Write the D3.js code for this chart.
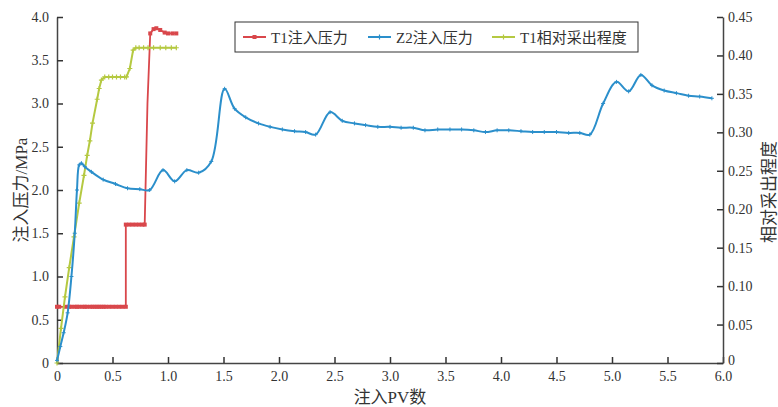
<!DOCTYPE html>
<html>
<head>
<meta charset="utf-8">
<script src="https://cdn.jsdelivr.net/npm/d3@7"></script>
<style>
  body { margin: 0; background: #fff; }
  svg text { font-family: "Liberation Serif", "Times New Roman", "Noto Sans CJK SC", serif; fill: #333; }
  .axis path, .axis line { stroke: #444; stroke-width: 1.5px; }
</style>
</head>
<body>
<div id="chart"></div>
<script>
// Z2 injection pressure (MPa) vs PV
var z2X = [0, 0.03, 0.06, 0.096, 0.13, 0.16, 0.18, 0.20, 0.22, 0.25, 0.31, 0.416, 0.527, 0.635, 0.746, 0.835,
  0.955, 1.06, 1.17, 1.276, 1.39, 1.51, 1.60, 1.70, 1.815, 1.92, 2.03, 2.14, 2.24, 2.33, 2.46, 2.57, 2.68,
  2.78, 2.89, 3.00, 3.10, 3.21, 3.315, 3.43, 3.54, 3.645, 3.755, 3.86, 3.965, 4.07, 4.18, 4.285, 4.39, 4.50,
  4.61, 4.71, 4.80, 4.92, 5.04, 5.15, 5.26, 5.36, 5.47, 5.58, 5.69, 5.79, 5.90];
var z2Y = [0.03, 0.19, 0.35, 0.58, 1.0, 1.5, 2.0, 2.29, 2.31, 2.27, 2.21, 2.12, 2.07, 2.02, 2.01, 2.00,
  2.23, 2.10, 2.23, 2.20, 2.33, 3.17, 2.94, 2.84, 2.77, 2.73, 2.70, 2.68, 2.67, 2.64, 2.90, 2.80, 2.77,
  2.75, 2.73, 2.73, 2.72, 2.72, 2.69, 2.70, 2.70, 2.70, 2.69, 2.67, 2.69, 2.69, 2.68, 2.67, 2.67, 2.67,
  2.66, 2.66, 2.64, 3.00, 3.25, 3.14, 3.33, 3.21, 3.15, 3.12, 3.09, 3.08, 3.06];

// T1 injection pressure (MPa)
var t1X = [0, 0.02, 0.08, 0.11, 0.13, 0.16, 0.18, 0.20, 0.23, 0.25, 0.27, 0.30, 0.32, 0.34, 0.36, 0.38, 0.40,
  0.42, 0.44, 0.47, 0.50, 0.53, 0.56, 0.59, 0.62, 0.62, 0.65, 0.68, 0.71, 0.74, 0.77, 0.79, 0.815, 0.84,
  0.87, 0.895, 0.93, 0.97, 1.00, 1.04, 1.075];
var t1Y = [0.65, 0.65, 0.65, 0.65, 0.65, 0.65, 0.65, 0.65, 0.65, 0.65, 0.65, 0.65, 0.65, 0.65, 0.65, 0.65, 0.65,
  0.65, 0.65, 0.65, 0.65, 0.65, 0.65, 0.65, 0.65, 1.60, 1.60, 1.60, 1.60, 1.60, 1.60, 1.60, 3.0, 3.81,
  3.86, 3.87, 3.85, 3.82, 3.81, 3.81, 3.81];

// T1 relative recovery degree (right axis)
var recX = [0, 0.036, 0.072, 0.11, 0.153, 0.20, 0.243, 0.272, 0.296, 0.32, 0.362, 0.38, 0.40, 0.43, 0.466,
  0.50, 0.536, 0.572, 0.61, 0.626, 0.656, 0.686, 0.71, 0.74, 0.78, 0.82, 0.87, 0.93, 0.98, 1.03, 1.075];
var recY = [0, 0.045, 0.086, 0.124, 0.164, 0.208, 0.244, 0.270, 0.289, 0.312, 0.343, 0.357, 0.368, 0.372, 0.372,
  0.372, 0.372, 0.372, 0.372, 0.372, 0.383, 0.407, 0.41, 0.41, 0.41, 0.41, 0.41, 0.41, 0.41, 0.41, 0.41];

var xTicks = [0, 0.5, 1.0, 1.5, 2.0, 2.5, 3.0, 3.5, 4.0, 4.5, 5.0, 5.5, 6.0];
var yTicks = [0, 0.5, 1.0, 1.5, 2.0, 2.5, 3.0, 3.5, 4.0];
var y2Ticks = [0, 0.05, 0.10, 0.15, 0.20, 0.25, 0.30, 0.35, 0.40, 0.45];

var seriesNames = ["T1注入压力", "Z2注入压力", "T1相对采出程度"];
var colors = ["#d9474b", "#2b8fcb", "#b5c941"];

var width = 778, height = 407;
var margin = {top: 17, right: 55, bottom: 44, left: 57};
var chartW = width - margin.left - margin.right,
    chartH = height - margin.top - margin.bottom;

var x = d3.scaleLinear().domain([0, 6]).range([0, chartW]);
var y = d3.scaleLinear().domain([0, 4]).range([chartH, 0]);
var y2 = d3.scaleLinear().domain([0, 0.45]).range([chartH, 0]);

var svg = d3.select('#chart').append('svg')
    .attr('width', width)
    .attr('height', height);
var g = svg.append('g').attr('transform', 'translate(' + margin.left + ',' + margin.top + ')');

var fmt1 = function(d) { return d === 0 ? "0" : d3.format(".1f")(d); };
var fmt2 = function(d) { return d === 0 ? "0" : d3.format(".2f")(d); };

g.append('g').attr('class', 'axis')
    .attr('transform', 'translate(0,' + chartH + ')')
    .call(d3.axisBottom(x).tickValues(xTicks).tickFormat(fmt1).tickSizeInner(-6).tickSizeOuter(0).tickPadding(8));
g.append('g').attr('class', 'axis')
    .call(d3.axisLeft(y).tickValues(yTicks).tickFormat(fmt1).tickSizeInner(-6).tickSizeOuter(0).tickPadding(8));
g.append('g').attr('class', 'axis y2')
    .attr('transform', 'translate(' + chartW + ',0)')
    .call(d3.axisRight(y2).tickValues(y2Ticks).tickFormat(fmt2).tickSizeInner(-6).tickSizeOuter(0).tickPadding(5));
g.selectAll('.axis text').style('font-size', '14px').attr('fill', '#333');
g.selectAll('.axis .tick line').style('stroke', '#333');
// the right-axis "0" sits a little above its tick so it clears the x label "6.0"
g.select('.y2').selectAll('.tick text').filter(function(d) { return d === 0; }).attr('dy', '0.1em');

function makeData(xs, ys) { return xs.map(function(d, i) { return [d, ys[i]]; }); }
var z2Data = makeData(z2X, z2Y),
    t1Data = makeData(t1X, t1Y),
    recData = makeData(recX, recY);

var plot = g.append('g');

// red T1 pressure
plot.append('path').datum(t1Data)
    .attr('fill', 'none').attr('stroke', colors[0]).attr('stroke-width', 1.8)
    .attr('d', d3.line().x(function(d) { return x(d[0]); }).y(function(d) { return y(d[1]); }));
plot.selectAll('.t1m').data(t1Data.filter(function(d) { return d[1] !== 3.0; }))
  .enter().append('rect').attr('class', 't1m')
    .attr('x', function(d) { return x(d[0]) - 2; })
    .attr('y', function(d) { return y(d[1]) - 2; })
    .attr('width', 4).attr('height', 4)
    .attr('fill', colors[0]);

// green recovery
plot.append('path').datum(recData)
    .attr('fill', 'none').attr('stroke', colors[2]).attr('stroke-width', 2)
    .attr('d', d3.line().x(function(d) { return x(d[0]); }).y(function(d) { return y2(d[1]); }));
plot.selectAll('.recm').data(recData)
  .enter().append('path').attr('class', 'recm')
    .attr('transform', function(d) { return 'translate(' + x(d[0]) + ',' + y2(d[1]) + ')'; })
    .attr('d', 'M-2.5,0H2.5M0,-2.5V2.5')
    .attr('stroke', colors[2]).attr('stroke-width', 1.2);

// blue Z2 pressure
plot.append('path').datum(z2Data)
    .attr('fill', 'none').attr('stroke', colors[1]).attr('stroke-width', 2)
    .attr('d', d3.line().curve(d3.curveCatmullRom.alpha(0.5))
      .x(function(d) { return x(d[0]); }).y(function(d) { return y(d[1]); }));
plot.selectAll('.z2m').data(z2Data)
  .enter().append('path').attr('class', 'z2m')
    .attr('transform', function(d) { return 'translate(' + x(d[0]) + ',' + y(d[1]) + ')'; })
    .attr('d', 'M-2,0H2M0,-2V2')
    .attr('stroke', colors[1]).attr('stroke-width', 1);

// axis titles
svg.append('text')
    .attr('transform', 'translate(27,190) rotate(-90)')
    .attr('text-anchor', 'middle')
    .style('font-size', '17px')
    .text('注入压力/MPa');
svg.append('text')
    .attr('transform', 'translate(775,192) rotate(-90)')
    .attr('text-anchor', 'middle')
    .style('font-size', '17px')
    .text('相对采出程度');
svg.append('text')
    .attr('x', margin.left + chartW / 2)
    .attr('y', 403)
    .attr('text-anchor', 'middle')
    .style('font-size', '17px')
    .text('注入PV数');

// legend
var legend = svg.append('g').attr('transform', 'translate(235,22)');
legend.append('rect')
    .attr('width', 403).attr('height', 30)
    .attr('fill', '#fff').attr('stroke', '#333').attr('stroke-width', 1);
var legX = [8, 133, 257];
seriesNames.forEach(function(name, i) {
  var item = legend.append('g').attr('transform', 'translate(' + legX[i] + ',15)');
  item.append('line').attr('x1', 0).attr('x2', 23).attr('y1', 0).attr('y2', 0)
      .attr('stroke', colors[i]).attr('stroke-width', 2);
  if (i === 0) {
    item.append('rect').attr('x', 9.5).attr('y', -2).attr('width', 4).attr('height', 4).attr('fill', colors[i]);
  } else {
    item.append('path').attr('d', 'M9,0H14M11.5,-2.5V2.5').attr('stroke', colors[i]).attr('stroke-width', 1.2);
  }
  item.append('text').attr('x', 28).attr('y', 5.5)
      .style('font-size', '15px')
      .text(name);
});
</script>
</body>
</html>
